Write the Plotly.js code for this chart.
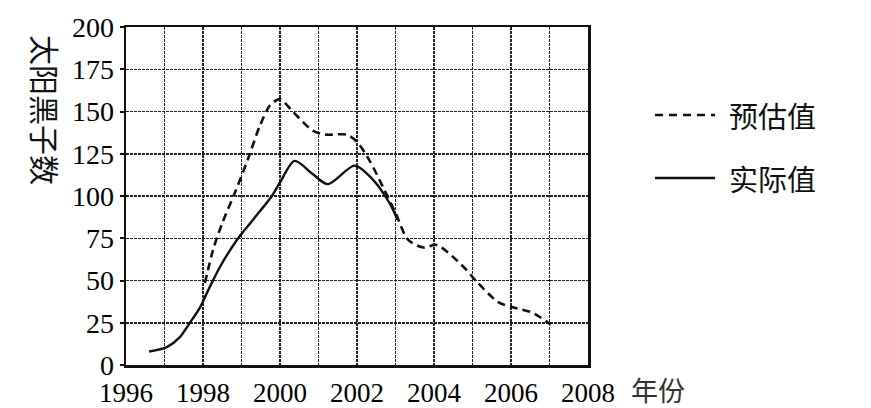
<!DOCTYPE html>
<html>
<head>
<meta charset="utf-8">
<script src="https://cdn.plot.ly/plotly-3.0.1.min.js"></script>
<style>html,body{margin:0;padding:0;background:#fff;}#chart{width:871px;height:408px;}</style>
</head>
<body>
<div id="chart"></div>
<script>
// Data
const predYears = [1998.05, 1998.26, 1998.5, 1998.83, 1999.17, 1999.48, 1999.74, 2000.0, 2000.33, 2000.85, 2001.2, 2001.73, 2002.0, 2002.33, 2002.66, 2003.0, 2003.33, 2003.73, 2004.07, 2004.77, 2005.08, 2005.68, 2006.07, 2006.55, 2007.03];
const predValues = [48.5, 68, 84, 102, 122, 141.7, 153.6, 157.3, 150, 138.7, 136.3, 136.3, 132, 120.8, 106, 90, 74, 69.5, 71, 58, 50, 37, 34, 31, 24];
const actYears = [1996.6, 1997.06, 1997.4, 1997.66, 1997.92, 1998.13, 1998.44, 1998.88, 1999.3, 1999.79, 2000.0, 2000.38, 2000.85, 2001.24, 2001.94, 2002.4, 2002.84, 2003.05];
const actValues = [8, 10.6, 16.5, 25, 34, 44, 58, 74, 86, 100, 108, 120.8, 113, 107, 118, 110, 96, 86];
const xTickVals = [1996, 1998, 2000, 2002, 2004, 2006, 2008];
const xTickText = ['1996', '1998', '2000', '2002', '2004', '2006', '2008'];
const yTickVals = [0, 25, 50, 75, 100, 125, 150, 175, 200];
const seriesNames = ['预估值', '实际值'];
const yTitle = '太阳黑子数';
const xTitle = '年份';

const serif = 'Liberation Serif, Times New Roman, serif';
const cjk = 'Noto Sans CJK SC, sans-serif';

const traces = [
  {x: predYears, y: predValues, name: seriesNames[0], mode: 'lines',
   line: {color: '#111', width: 2.6, dash: '8px,5px', shape: 'spline', smoothing: 0.8}},
  {x: actYears, y: actValues, name: seriesNames[1], mode: 'lines',
   line: {color: '#111', width: 2.4, shape: 'spline', smoothing: 0.8}}
];

const layout = {
  width: 871, height: 408,
  margin: {l: 126, r: 283, t: 27, b: 43},
  paper_bgcolor: '#fff', plot_bgcolor: '#fff',
  showlegend: false,
  xaxis: {
    range: [1996, 2008], tickvals: xTickVals, ticktext: xTickText,
    showgrid: true, gridcolor: '#222', gridwidth: 1.5, griddash: '3px,1px',
    minor: {dtick: 1, tick0: 1996, showgrid: true, gridcolor: '#222', gridwidth: 1.5, griddash: '3px,1px'},
    showline: true, linecolor: '#111', linewidth: 2.5, mirror: true,
    ticks: '', zeroline: false,
    tickfont: {family: serif, size: 27, color: '#000'},
    ticklabelstandoff: 2
  },
  yaxis: {
    range: [0, 200], tickvals: yTickVals,
    showgrid: true, gridcolor: '#222', gridwidth: 1.5, griddash: '3px,1px',
    showline: true, linecolor: '#111', linewidth: 2.5, mirror: true,
    ticks: 'outside', ticklen: 4, tickcolor: '#111', tickwidth: 2,
    zeroline: false,
    tickfont: {family: serif, size: 28, color: '#000'}
  },
  shapes: [
    {type: 'line', xref: 'paper', yref: 'paper', x0: 1.145, x1: 1.275, y0: 0.74, y1: 0.74,
     line: {color: '#111', width: 2.5, dash: '8px,6px'}},
    {type: 'line', xref: 'paper', yref: 'paper', x0: 1.145, x1: 1.275, y0: 0.553, y1: 0.553,
     line: {color: '#111', width: 2.5}}
  ],
  annotations: [
    {xref: 'paper', yref: 'paper', x: 1.301, y: 0.74, xanchor: 'left', yanchor: 'middle',
     text: seriesNames[0], showarrow: false, font: {family: cjk, size: 29, color: '#111'}},
    {xref: 'paper', yref: 'paper', x: 1.301, y: 0.553, xanchor: 'left', yanchor: 'middle',
     text: seriesNames[1], showarrow: false, font: {family: cjk, size: 29, color: '#111'}},
    {xref: 'paper', yref: 'paper', x: -0.173, y: 0.754, xanchor: 'center', yanchor: 'middle',
     text: yTitle, textangle: 90, showarrow: false, font: {family: cjk, size: 30, color: '#111'}},
    {xref: 'paper', yref: 'paper', x: 1.152, y: -0.072, xanchor: 'center', yanchor: 'middle',
     text: xTitle, showarrow: false, font: {family: cjk, size: 27, color: '#333'}}
  ]
};

Plotly.newPlot('chart', traces, layout, {staticPlot: true, displayModeBar: false});
</script>
</body>
</html>
